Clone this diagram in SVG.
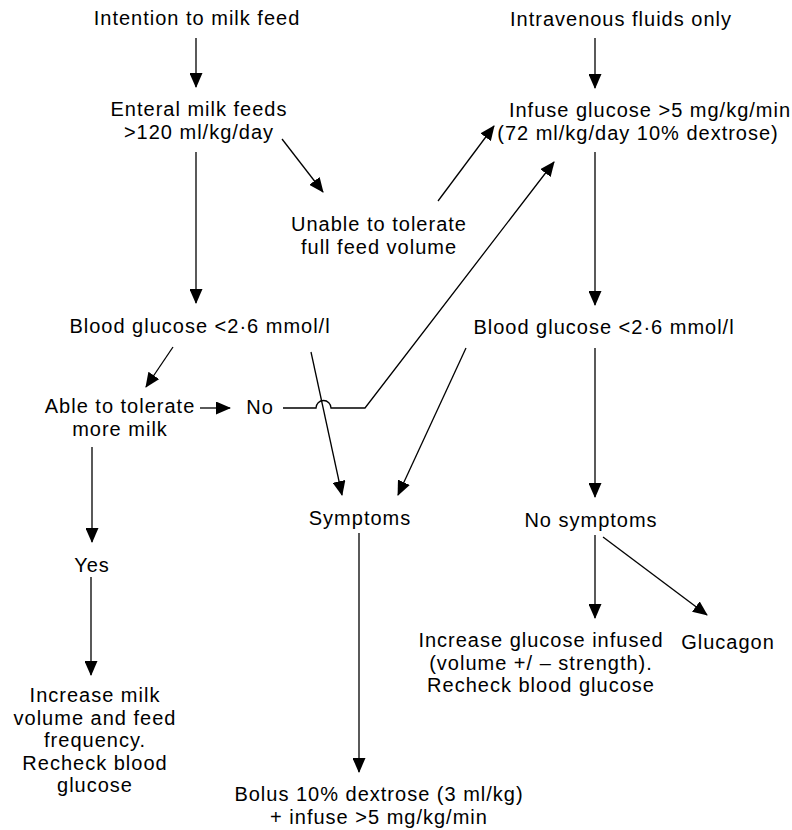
<svg xmlns="http://www.w3.org/2000/svg" width="792" height="830" viewBox="0 0 792 830">
<defs>
<style>
text{font-family:"Liberation Sans",Arial,Helvetica,sans-serif;font-size:20px;letter-spacing:1px;fill:#000;text-anchor:middle}
.c line,.c path{stroke:#000;stroke-width:1.3;fill:none;marker-end:url(#ah)}
</style>
<marker id="ah" markerUnits="userSpaceOnUse" viewBox="0 0 15 13" markerWidth="15" markerHeight="13" refX="14" refY="6.5" orient="auto">
<path d="M0,0 L15,6.5 L0,13 Z" fill="#000"/>
</marker>
</defs>
<rect width="792" height="830" fill="#fff"/>
<g id="n-intention"><text x="197" y="25">Intention to milk feed</text></g>
<g id="n-iv"><text x="621" y="26">Intravenous fluids only</text></g>
<g id="n-enteral"><text x="199" y="116">Enteral milk feeds</text><text x="199" y="138.5">&gt;120 ml/kg/day</text></g>
<g id="n-infuse"><text x="650" y="117">Infuse glucose &gt;5 mg/kg/min</text><text x="638" y="139.5">(72 ml/kg/day 10% dextrose)</text></g>
<g id="n-unable"><text x="379" y="231">Unable to tolerate</text><text x="379" y="253.5">full feed volume</text></g>
<g id="n-bg-left"><text x="200" y="333">Blood glucose &lt;2·6 mmol/l</text></g>
<g id="n-bg-right"><text x="604" y="334">Blood glucose &lt;2·6 mmol/l</text></g>
<g id="n-able"><text x="120" y="413">Able to tolerate</text><text x="120" y="435.5">more milk</text></g>
<g id="n-no"><text x="260" y="414">No</text></g>
<g id="n-yes"><text x="92" y="572">Yes</text></g>
<g id="n-increase-milk"><text x="95" y="702">Increase milk</text><text x="95" y="724.5">volume and feed</text><text x="95" y="747">frequency.</text><text x="95" y="769.5">Recheck blood</text><text x="95" y="792">glucose</text></g>
<g id="n-symptoms"><text x="360" y="525">Symptoms</text></g>
<g id="n-nosymptoms"><text x="591" y="527">No symptoms</text></g>
<g id="n-increase-glucose"><text x="541" y="647">Increase glucose infused</text><text x="541" y="669.5">(volume +/ – strength).</text><text x="541" y="692">Recheck blood glucose</text></g>
<g id="n-glucagon"><text x="728" y="649">Glucagon</text></g>
<g id="n-bolus"><text x="379" y="801">Bolus 10% dextrose (3 ml/kg)</text><text x="379" y="823.5">+ infuse &gt;5 mg/kg/min</text></g>
<g id="connectors" class="c">
<line x1="196" y1="38" x2="196" y2="87"/>
<line x1="595" y1="38" x2="595" y2="88"/>
<line x1="196" y1="152" x2="196" y2="303"/>
<line x1="282" y1="139" x2="323" y2="192"/>
<line x1="438" y1="201" x2="494" y2="126"/>
<line x1="595" y1="152" x2="595" y2="305"/>
<line x1="173" y1="347" x2="146" y2="387"/>
<line x1="200" y1="408" x2="230" y2="408"/>
<path d="M283,408 H316 A7.5,7.5 0 0 1 331,408 H365 L554,162"/>
<line x1="311" y1="352" x2="342" y2="495"/>
<line x1="466" y1="348" x2="398" y2="495"/>
<line x1="595" y1="348" x2="595" y2="497"/>
<line x1="92" y1="447" x2="92" y2="542"/>
<line x1="91" y1="577" x2="91" y2="675"/>
<line x1="359" y1="533" x2="359" y2="772"/>
<line x1="595" y1="535" x2="595" y2="618"/>
<line x1="603" y1="537" x2="707" y2="615"/>
</g>
</svg>
